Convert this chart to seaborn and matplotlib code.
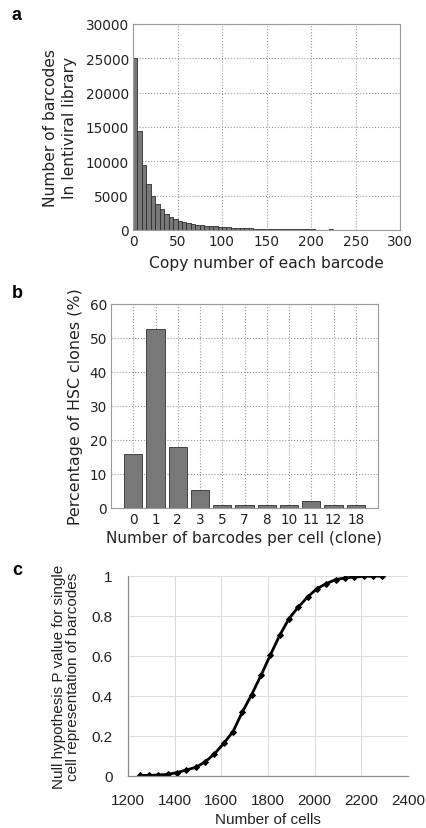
import numpy as np
import pandas as pd
import matplotlib
matplotlib.use("Agg")
import matplotlib.pyplot as plt
import seaborn as sns

# ---- Panel a data: histogram of barcode copy numbers (bin width 5) ----
copy_bin_left = list(range(0, 300, 5))
barcode_counts = [25000, 14400, 9450, 6700, 4900, 3800, 3000, 2350, 1950, 1650,
                  1350, 1150, 1000, 880, 780, 700, 640, 580, 520, 470,
                  420, 380, 340, 310, 280, 250, 230, 210, 190, 170,
                  155, 140, 130, 120, 110, 100, 95, 90, 85, 80,
                  75, 70, 65, 60, 150, 60, 55, 50, 48, 46,
                  44, 42, 40, 38, 36, 34, 32, 30, 28, 26]

# ---- Panel b data ----
barcodes_per_cell = ["0", "1", "2", "3", "5", "7", "8", "10", "11", "12", "18"]
pct_hsc_clones = [15.8, 52.6, 18.0, 5.3, 1.0, 1.0, 1.0, 1.0, 2.1, 1.0, 1.0]

# ---- Panel c data ----
n_cells = [1250, 1290, 1330, 1370, 1410, 1450, 1490, 1530, 1570, 1610, 1650, 1690,
           1730, 1770, 1810, 1850, 1890, 1930, 1970, 2010, 2050, 2090, 2130, 2170,
           2210, 2250, 2290]
p_value = [0.003, 0.003, 0.005, 0.008, 0.017, 0.03, 0.043, 0.07, 0.11, 0.163,
           0.222, 0.32, 0.407, 0.503, 0.605, 0.703, 0.787, 0.845, 0.895, 0.937,
           0.962, 0.982, 0.99, 0.995, 0.998, 0.999, 1.0]

sns.set_style("white")
plt.rcParams['font.family'] = ['DejaVu Sans']

fig = plt.figure(figsize=(4.27, 8.29), dpi=100)
W, H = 427, 829

def add_ax(l, r, t, b):
    return fig.add_axes([l / W, 1 - b / H, (r - l) / W, (b - t) / H])

bar_fc = "#787878"
bar_ec = "#2e2e2e"
frame_c = "#9a9a9a"
txt_c = "#222222"

# ---------------- Panel a ----------------
axa = add_ax(133, 400, 25, 231)
dfa = pd.DataFrame({"copy": copy_bin_left, "count": barcode_counts})
sns.histplot(data=dfa, x="copy", weights="count", binwidth=5, binrange=(0, 300),
             color=bar_fc, edgecolor=bar_ec, linewidth=0.6, alpha=1, ax=axa)
axa.set_xlim(0, 300)
axa.set_ylim(0, 30000)
axa.set_xticks(range(0, 301, 50))
axa.set_yticks(range(0, 30001, 5000))
axa.grid(True, linestyle=":", color="#9a9a9a", linewidth=0.8)
axa.set_axisbelow(True)
axa.set_xlabel("Copy number of each barcode", fontsize=11.2, color=txt_c, labelpad=5)
axa.set_ylabel("Number of barcodes\nIn lentiviral library", fontsize=11.2, color=txt_c,
               labelpad=6, linespacing=1.35)
axa.tick_params(labelsize=9.8, colors=txt_c, length=0, pad=3)
for s in axa.spines.values():
    s.set_color(frame_c); s.set_linewidth(0.8)

# ---------------- Panel b ----------------
axb = add_ax(111, 378, 305, 509)
dfb = pd.DataFrame({"n": barcodes_per_cell, "pct": pct_hsc_clones})
sns.barplot(data=dfb, x="n", y="pct", color=bar_fc, edgecolor=bar_ec,
            linewidth=0.6, width=0.82, saturation=1, ax=axb)
axb.set_xlim(-1, len(barcodes_per_cell))
axb.set_ylim(0, 60)
axb.set_yticks(range(0, 61, 10))
axb.grid(True, linestyle=":", color="#9a9a9a", linewidth=0.8)
axb.set_axisbelow(True)
axb.set_xlabel("Number of barcodes per cell (clone)", fontsize=11, color=txt_c, labelpad=3)
axb.set_ylabel("Percentage of HSC clones (%)", fontsize=11.4, color=txt_c, labelpad=5)
axb.tick_params(labelsize=9.8, colors=txt_c, length=0, pad=3)
for s in axb.spines.values():
    s.set_color(frame_c); s.set_linewidth(0.8)

# ---------------- Panel c ----------------
axc = add_ax(128, 408, 577, 777)
dfc = pd.DataFrame({"cells": n_cells, "p": p_value})
sns.lineplot(data=dfc, x="cells", y="p", color="black", linewidth=2.0,
             marker="D", markersize=3, markeredgecolor="black", ax=axc)
axc.set_xlim(1200, 2400)
axc.set_ylim(0, 1)
axc.set_xticks(range(1200, 2401, 200))
axc.set_yticks([0, 0.2, 0.4, 0.6, 0.8, 1.0])
axc.set_yticklabels(["0", "0.2", "0.4", "0.6", "0.8", "1"])
axc.grid(True, linestyle="-", color="#dcdcdc", linewidth=0.8)
axc.set_axisbelow(True)
for k in ["top", "right"]:
    axc.spines[k].set_visible(False)
for k in ["left", "bottom"]:
    axc.spines[k].set_color("#8c8c8c"); axc.spines[k].set_linewidth(0.9)
axc.tick_params(labelsize=11, colors=txt_c, length=3, width=0.8)
axc.tick_params(axis="x", pad=9)
axc.tick_params(axis="y", pad=8)
axc.tick_params(axis="both", color="#8c8c8c")
for lab in axc.get_xticklabels() + axc.get_yticklabels():
    lab.set_family("Liberation Sans")
axc.set_xlabel("Number of cells", fontsize=11, color=txt_c, family="Liberation Sans", labelpad=4)
axc.set_ylabel("Null hypothesis P value for single\ncell representation of barcodes",
               fontsize=11, color=txt_c, family="Liberation Sans", labelpad=8,
               linespacing=1.0)

# panel letters
for letter, (x, y) in {"a": (17, 15), "b": (17, 293), "c": (17, 571)}.items():
    fig.text(x / W, 1 - y / H, letter, fontsize=13, fontweight="bold",
             family="Liberation Sans", ha="center", va="center", color="black")

fig.savefig("out.png", dpi=100)
